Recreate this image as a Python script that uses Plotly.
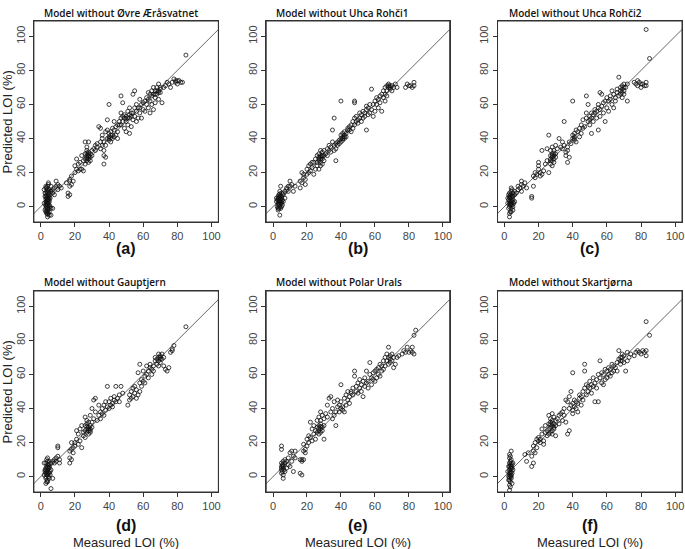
import plotly.graph_objects as go

TITLES = ["Model without Øvre Æråsvatnet", "Model without Uhca Rohči1", "Model without Uhca Rohči2",
          "Model without Gauptjern", "Model without Polar Urals", "Model without Skartjørna"]
LETTERS = ["(a)", "(b)", "(c)", "(d)", "(e)", "(f)"]
X_TITLE = "Measured LOI (%)"
Y_TITLE = "Predicted LOI (%)"
TICKS = [0, 20, 40, 60, 80, 100]
ONE_TO_ONE = [-10, 110]

PTS_A = [
    (2,2),(2.5,6),(3,-1),(3,3),(3,8),(3,12),(3.5,-4),(3.5,0),(3.5,5),(4,-3),(4,1),(4,4),(4,7),(4,10),(4,-2),
    (4.5,2),(4.5,6),(4.5,14),(5,-5),(5,-1),(5,3),(5,8),(5.5,0),(5.5,5),(6,-5),(6,9),(3,11),(3.5,-3),(4,-6),
    (4.5,13),(5,4),(2.5,-2),(3,6),(4,2),(5,7),(6,-1),(7,-1),(2,10),(3.5,9),(4.5,-4),(3,1),(4,5),(5,1),(3.5,3),
    (3,0.5),(3.5,1.5),(4,3.5),(4,8),(3.5,6.5),(4.5,0.5),(3,-3),(4,-4.5),(5,5.5),(3.5,11),(4,12),(5,10),
    (2.5,8),(3,4.5),(4.5,9),(4,-1),(3.5,2.5),(4.5,4.5),(5,-3),
    (6,9),(7,8),(7,10),(8,11),(8,7),(9,12),(9,15),(10,10),(10,13),(11,12),(12,11),(6,12),
    (15,14),(16,6),(16,8),(17,7),(17,12),(17,16),(18,13),(18,18),(19,15),(17,15),
    (20,20),(20,24),(21,22),(21,28),(22,21),(22,25),(23,26),(23,22),(24,30),(24,22),(25,27),(25,21),
    (26,28),(26,31),(26,25),(26,38),(27,27),(27,29),(27,30),(27,33),(27,35),(28,28),(28,30),(28,32),(28,26),
    (28,38),(29,29),(29,31),(29,27),(30,33),(30,30),(27,28.5),(28,29.5),(28,31),(27,31.5),
    (31,34),(32,33),(32,36),(33,35),(33,37),(34,47),(35,46),(35,34),(35,38),(36,36),(36,42),(36,40),(37,25),
    (37,38),(37,33),(37,30),(38,44),(38,36),(38,29),
    (39,40),(39,45),(39,51),(40,41),(40,39),(40,60),(40,43),(41,42),(41,44),(41,38),(42,46),(42,40),(43,45),
    (43,50),(43,41),(44,47),(44,42),(40,40),(41,40.5),(42,42),
    (45,48),(45,44),(45,40),(46,48),(46,50),(47,65),(47,55),(47,52),(47,48),(48,61),(48,53),(48,50),(49,52),
    (49,54),(49,46),(50,53),(50,50),(50,44),(52,52),(50,51.5),
    (51,52),(51,56),(51,48),(52,54),(52,58),(52,43),(53,53),(53,55),(53,47),(54,55),(54,51),(54,66),(55,58),
    (55,53),(55,68),(56,56),(56,50),(56,60),
    (57,52),(57,58),(58,58),(58,55),(58,63),(59,60),(59,52),(60,61),(60,57),(61,62),(61,56),(62,60),(62,64),
    (63,63),(63,58),(63,67),(64,62),(64,55),(64,66),(65,65),(65,60),(65,68),(66,66),(66,70),(66,57),(67,64),
    (67,68),(67,61),(68,70),(68,66),(69,68),(69,72),(69,63),(70,70),(70,67),(71,61),(69,67),(70,69),(68,68),
    (67,66),
    (72,70),(73,71),(74,73),(75,72),(76,70),(77,73),(78,75),(79,74),(79,73),(80,74),(80,72),(81,74),(82,73),
    (83,73),(85,89),
]

PTS_B = [
    (2,3),(2,5),(2.5,0),(3,-1),(3,2),(3,6),(3,4),(3.5,1),(3.5,7),(4,-5),(4,0),(4,3),(4,5),(4.5,-1),(4.5,4),
    (5,2),(5,6),(5,8),(5.5,1),(6,3),(6,7),(3,-2),(4,9),(5,5),(2.5,4),(3.5,-1),(4.5,12),(4,6),(3,1),(5,3),
    (3.5,3),(4,1.5),(4.5,6.5),(5,0),(3,5),(4,7.5),(5.5,4),(3.5,5),(4.5,2),
    (6,8),(7,5),(7,9),(8,10),(8,11),(9,9),(9,12),(10,12),(10,15),(11,13),(12,9),(13,12),
    (16,11),(16,15),(17,14),(17,20),(18,17),(18,19),(19,13),(19,16),
    (20,19),(20,22),(21,24),(21,20),(22,21),(22,25),(23,26),(23,23),(24,26),(24,19),(25,28),(25,22),
    (26,26),(26,30),(26,24),(27,27),(27,29),(27,31),(27,22),(28,28),(28,30),(28,26),(28,33),(28,24),(29,30),
    (29,28),(29,32),(29,25),(30,30),(30,33),(30,27),(31,31),(28,29),(29,29.5),(27,28),
    (32,34),(32,30),(33,33),(33,36),(34,35),(34,32),(35,45),(35,38),(36,52),(36,36),(36,33),(37,27),(37,37),
    (37,34),(38,38),(38,36),(39,39),(39,37),
    (40,62),(40,40),(40,42),(40,38),(41,41),(41,43),(41,39),(42,42),(42,40),(42,44),(43,41),(43,43),(44,45),
    (44,46),(41,40),(42,41),
    (45,45),(45,47),(46,48),(46,44),(47,50),(47,46),(48,62),(48,61),(48,52),(48,48),(49,50),(49,53),(50,49),
    (50,51),
    (51,52),(51,55),(52,54),(52,50),(53,56),(53,52),(54,55),(54,53),(55,45),(55,57),(55,59),(56,58),(56,54),
    (57,55),(57,60),(58,69),(58,57),(59,60),(59,53),(60,62),(60,56),(61,60),(61,64),(62,63),(62,58),(63,65),
    (63,61),(64,66),(64,56),(65,64),(65,68),
    (66,66),(66,70),(66,62),(67,68),(67,71),(67,65),(68,70),(68,72),(69,69),(69,71),(70,71),(70,68),(71,70),
    (72,72),(73,70),(68,71),(69,70),
    (78,70),(79,72),(80,71),(81,71),(82,70),(83,73),(83,71),
]

PTS_C = [
    (2,2),(2,5),(2.5,-1),(3,0),(3,3),(3,6),(3,8),(3.5,-3),(3.5,2),(3.5,5),(4,-1),(4,1),(4,4),(4,7),(4,9),
    (4.5,3),(4.5,6),(5,0),(5,4),(5,8),(5.5,2),(6,3),(6,7),(3,-6),(4,-3),(5,-2),(2.5,4),(3.5,1),(4.5,10),
    (3,-4),(4,11),(3,5),(4,2),(5,6),(3.5,7),(4.5,1),(5,2.5),(2.5,7),(4,5.5),(3,1.5),
    (6,9),(7,8),(8,10),(8,12),(9,11),(10,15),(10,13),(10,9),(11,12),(12,14),(13,11),
    (16,5),(16,6),(17,12),(17,18),(18,20),(18,17),(19,19),(20,22),(20,26),(20,24),
    (21,18),(21,20),(22,33),(22,19),(23,21),(24,25),(25,27),(25,34),
    (26,42),(26,20),(27,25),(27,28),(27,30),(27,33),(28,27),(28,29),(28,31),(28,24),(28,35),(29,28),(29,30),
    (29,26),(29,33),(30,29),(30,36),(30,31),(28,30),(27,27),(29,31.5),
    (31,34),(32,40),(33,35),(34,34),(34,38),(35,50),(35,36),(36,32),(36,30),(37,26),(37,35),(37,33),(38,29),
    (38,38),(39,37),
    (40,62),(40,40),(40,42),(41,41),(41,43),(41,39),(42,45),(42,38),(43,44),(44,41),(44,46),(41,40),
    (45,43),(45,48),(46,46),(46,51),(47,47),(48,65),(48,52),(48,55),(49,60),(49,50),(50,53),(50,51),(50,48),
    (51,52),(51,55),(51,43),(52,54),(52,50),(53,57),(53,55),(54,56),(54,52),(55,45),(55,58),(55,60),(56,57),
    (56,67),(56,53),
    (57,66),(57,59),(58,61),(58,55),(59,62),(59,50),(60,64),(60,58),(61,62),(61,56),(62,63),(62,65),(63,60),
    (63,68),(64,66),(64,58),(65,64),(65,62),(66,67),(66,69),
    (67,76),(67,65),(68,68),(68,70),(68,66),(69,69),(69,71),(69,64),(70,68),(70,72),(70,66),(71,70),(72,72),
    (72,62),(69,67),(70,70),
    (76,73),(77,72),(78,71),(78,74),(79,73),(80,72),(80,70),(81,72),(82,71),(83,71),(83,73),
    (83,104),(85,87),
]

PTS_D = [
    (2,1),(2,8),(2.5,4),(3,-1),(3,2),(3,5),(3,8),(3.5,-3),(3.5,3),(3.5,6),(4,-2),(4,1),(4,4),(4,7),(4,11),
    (4.5,0),(4.5,5),(5,2),(5,6),(5,9),(5.5,3),(6,4),(6,8),(3,-4),(4,-3),(5,-1),(2.5,3),(3.5,10),(4.5,7),
    (6,-7),(7,-1),(3,4),(4,2),(5,5),(3.5,1),(4,5.5),(4.5,2.5),(5,7.5),(3,0),(4,9),(5.5,1),
    (7,9),(8,10),(8,8),(9,11),(9,9),(10,17),(10,18),(10,12),(11,10),(11,8),
    (17,8),(17,11),(17,15),(18,10),(18,16),(18,20),(19,17),(19,14),(20,20),(20,18),
    (21,22),(21,27),(22,25),(22,19),(23,21),(23,28),(24,30),(24,17),(25,26),(25,24),
    (26,27),(26,30),(26,35),(26,23),(27,28),(27,26),(27,31),(27,33),(28,27),(28,29),(28,25),(28,32),(29,28),
    (29,30),(29,36),(29,26),(30,40),(30,29),(30,32),(28,28),(27,29.5),(29,27),
    (31,45),(32,46),(31,34),(32,38),(33,33),(34,36),(34,42),(35,34),(35,38),(36,37),(36,40),(37,42),(37,36),
    (38,39),(38,44),(39,53),(39,41),(40,40),(40,44),
    (41,42),(41,46),(42,43),(42,41),(43,45),(43,47),(44,53),(44,44),(45,46),(46,48),(46,44),(47,53),(48,49),
    (51,42),(52,45),(52,48),(53,46),(53,50),(54,52),(54,47),(55,49),(55,53),(56,51),(56,46),
    (57,61),(57,48),(58,66),(58,50),(58,55),(59,53),(59,57),(60,56),(60,62),(61,59),(61,55),(62,60),(62,65),
    (63,58),(63,62),(64,64),(64,66),(65,60),(65,63),(66,62),(66,65),(67,68),(67,70),(68,66),(68,69),
    (69,70),(69,68),(69,72),(69,65),(70,67),(70,70),(70,71),(71,69),(71,72),(72,70),(72,65),(70,69),
    (73,63),(74,62),(75,64),(76,73),(77,74),(78,77),(77,75),
    (85,88),
]

PTS_E = [
    (5,2),(5,4),(5,6),(5,8),(5,16),(5,18),(5.5,3),(5.5,7),(6,5),(6,-1),(6,9),(6,1),(6,6),(6.5,4),(7,8),
    (7,3),(7,10),(5,5),(6,7),
    (8,5),(8,9),(9,7),(9,11),(10,14),(10,6),(11,15),(11,9),(12,3),(12,12),(13,15),(13,11),
    (16,2),(17,1),(16,10),(17,10),(17,9),(18,10),(18,15),(18,19),(19,16),(19,14),(20,18),(20,22),
    (21,20),(21,24),(22,23),(22,32),(23,21),(23,28),(24,25),(24,30),(25,27),(25,22),
    (26,29),(26,33),(26,26),(27,27),(27,30),(27,35),(27,25),(28,28),(28,31),(28,26),(28,38),(28,33),(29,29),
    (29,27),(29,36),(30,30),(30,22),(30,34),(28,29.5),(27,28.5),
    (31,37),(32,42),(32,35),(33,46),(34,47),(34,38),(35,40),(35,34),(36,44),(36,36),(37,38),(37,30),(38,41),
    (38,45),
    (39,38),(39,42),(40,54),(40,40),(40,44),(41,39),(41,41),(42,46),(42,38),(43,48),(43,42),(44,45),(44,50),
    (45,47),(45,43),(46,50),(46,49),(47,52),(47,48),(48,62),(48,59),(49,53),(49,50),(50,55),(50,49),(51,52),
    (51,57),(52,54),(52,50),(53,56),(53,47),(54,58),(54,53),(55,62),(55,55),
    (56,56),(56,52),(57,67),(57,60),(58,58),(58,54),(59,61),(59,57),(60,62),(60,56),(61,63),(61,58),(62,64),
    (62,60),(63,66),(63,59),(64,62),(64,65),(65,68),(65,63),
    (66,70),(66,65),(67,68),(67,72),(68,76),(68,70),(68,66),(69,71),(69,67),(70,72),(70,68),(71,70),(71,64),
    (72,66),(69,69),
    (73,70),(74,71),(76,72),(77,74),(78,73),(79,76),(80,73),(81,74),(82,73),(82,76),(83,72),
    (84,86),(83,83),
]

PTS_F = [
    (2,3),(2.5,6),(2.5,0),(3,-8),(3,-5),(3,-2),(3,1),(3,4),(3,8),(3.5,-3),(3.5,2),(3.5,5),(3.5,9),(3.5,12),
    (4,-1),(4,3),(4,6),(4,10),(4,15),(4.5,2),(4.5,7),(4.5,-4),(5,4),(5,8),(3,13),(3.5,-6),(4,0),(2.5,-2),
    (3,11),(4,5),(3,6),(4,1),(3.5,7),(3,2.5),(4,8),(3.5,0.5),(4.5,5),(3,-0.5),
    (12,13),(13,9),(14,14),
    (16,6),(16,12),(17,8),(17,15),(17,18),(18,14),(18,20),(19,17),(19,22),(20,21),(20,23),
    (21,22),(21,20),(22,25),(22,28),(23,19),(23,21),(24,26),(24,30),(25,27),(25,24),
    (26,28),(26,31),(26,25),(26,36),(27,26),(27,29),(27,32),(27,34),(28,27),(28,30),(28,33),(28,25),(28,37),
    (29,29),(29,31),(29,28),(29,35),(30,30),(30,24),(30,33),(28,31.5),(27,30.5),
    (31,34),(32,36),(32,31),(33,37),(34,38),(34,33),(35,40),(35,36),(36,45),(36,32),(37,25),(37,44),(38,27),
    (38,47),(38,40),(39,50),(39,42),
    (40,61),(40,39),(40,43),(40,37),(41,41),(41,45),(42,44),(42,40),(43,43),(43,38),(44,48),(44,46),(45,47),
    (45,42),
    (46,50),(46,45),(47,66),(47,62),(47,52),(48,54),(48,48),(49,53),(49,50),(50,52),(50,56),(51,54),(51,49),
    (52,53),(52,58),(53,55),(53,44),(54,57),(54,52),(55,60),(55,44),
    (56,68),(56,58),(57,55),(57,61),(58,60),(58,54),(59,63),(59,57),(60,62),(60,58),(61,64),(61,60),(62,63),
    (62,59),(63,66),(63,61),(64,65),(64,62),(65,64),
    (66,67),(66,62),(67,74),(67,69),(68,66),(68,70),(69,68),(69,72),(70,71),(70,67),(71,62),(72,68),(72,73),
    (69,70),(68,68),
    (73,70),(74,72),(76,71),(77,73),(78,74),(79,73),(80,72),(81,74),(82,73),(83,74),(83,71),
    (83,91),(85,83),
]

PANELS = [PTS_A, PTS_B, PTS_C, PTS_D, PTS_E, PTS_F]

W, H = 685, 549
COL_PX = [(34, 219), (267, 451), (499, 684)]
ROW_PX = [(21, 222), (291, 492)]
TITLE_X_PX = [42, 275, 508]
TITLE_Y_PX = [13, 282]
LETTER_Y_PX = [248, 525]

fig = go.Figure()
axis_font = dict(family="Liberation Sans, Arial", size=11, color="#444")

for i, pts in enumerate(PANELS):
    r, c = divmod(i, 3)
    n = i + 1
    xs = [p[0] for p in pts]
    ys = [p[1] for p in pts]
    xa = f"x{n}" if n > 1 else "x"
    ya = f"y{n}" if n > 1 else "y"
    fig.add_trace(go.Scatter(x=ONE_TO_ONE, y=ONE_TO_ONE, mode="lines", xaxis=xa, yaxis=ya,
                             line=dict(color="#666", width=1), hoverinfo="skip", showlegend=False))
    fig.add_trace(go.Scatter(x=xs, y=ys, mode="markers", xaxis=xa, yaxis=ya, showlegend=False,
                             marker=dict(symbol="circle-open", size=4, color="#111",
                                         line=dict(width=0.8, color="#111"))))
    x0, x1 = COL_PX[c]
    y0, y1 = ROW_PX[r]
    common = dict(showline=True, mirror=True, linecolor="#333", linewidth=1, ticks="outside",
                  ticklen=4, tickcolor="#333", tickwidth=1, tickfont=axis_font, showgrid=False,
                  zeroline=False, tickmode="array", tickvals=TICKS)
    fig.layout[f"xaxis{n}" if n > 1 else "xaxis"] = dict(
        domain=[x0 / W, x1 / W], range=[-4, 104], anchor=ya, **common)
    fig.layout[f"yaxis{n}" if n > 1 else "yaxis"] = dict(
        domain=[1 - y1 / H, 1 - y0 / H], range=[-9, 109], anchor=xa, tickangle=-90, **common)
    fig.add_shape(type="rect", xref=f"{xa} domain", yref=f"{ya} domain", x0=0, x1=1, y0=0, y1=1,
                  line=dict(color="#333", width=1), fillcolor="rgba(0,0,0,0)", layer="above")
    fig.add_annotation(text=TITLES[i], x=TITLE_X_PX[c] / W, y=1 - TITLE_Y_PX[r] / H, xref="paper",
                       yref="paper", xanchor="left", yanchor="middle", showarrow=False,
                       font=dict(family="Open Sans", size=10, weight=600, color="#111"))
    fig.add_annotation(text=LETTERS[i], x=(x0 + x1) / 2 / W, y=1 - LETTER_Y_PX[r] / H, xref="paper",
                       yref="paper", xanchor="center", yanchor="middle", showarrow=False,
                       font=dict(family="Liberation Sans, Arial", size=16, weight="bold", color="#111"))
    if r == 1:
        fig.add_annotation(text=X_TITLE, x=(x0 + x1) / 2 / W, y=1 - 542 / H, xref="paper",
                           yref="paper", xanchor="center", yanchor="middle", showarrow=False,
                           font=dict(family="Liberation Sans, Arial", size=13, color="#222"))
    if c == 0:
        fig.add_annotation(text=Y_TITLE, x=8 / W, y=1 - (y0 + y1) / 2 / H, xref="paper",
                           yref="paper", xanchor="center", yanchor="middle", showarrow=False,
                           textangle=-90,
                           font=dict(family="Liberation Sans, Arial", size=13, color="#222"))

fig.update_layout(width=W, height=H, margin=dict(l=0, r=0, t=0, b=0),
                  paper_bgcolor="white", plot_bgcolor="white")
fig.write_html("out.html", config={"displayModeBar": False},
               post_script="document.body.style.margin='0';document.body.style.overflow='hidden';")
